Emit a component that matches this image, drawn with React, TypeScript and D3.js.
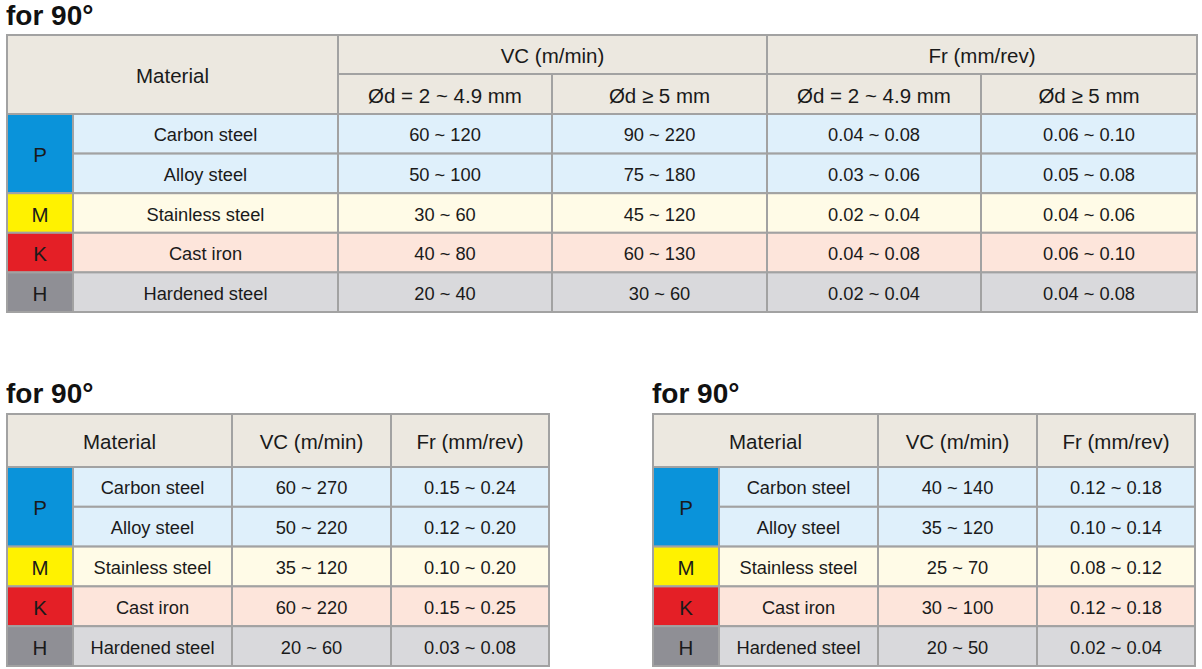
import React from "react";
import * as d3 from "d3";

const materials = ["Carbon steel", "Alloy steel", "Stainless steel", "Cast iron", "Hardened steel"];
const groups = ["P", "P", "M", "K", "H"];
const groupKeys = ["P", "M", "K", "H"];

const topVcSmall = ["60 ~ 120", "50 ~ 100", "30 ~ 60", "40 ~ 80", "20 ~ 40"];
const topVcLarge = ["90 ~ 220", "75 ~ 180", "45 ~ 120", "60 ~ 130", "30 ~ 60"];
const topFrSmall = ["0.04 ~ 0.08", "0.03 ~ 0.06", "0.02 ~ 0.04", "0.04 ~ 0.08", "0.02 ~ 0.04"];
const topFrLarge = ["0.06 ~ 0.10", "0.05 ~ 0.08", "0.04 ~ 0.06", "0.06 ~ 0.10", "0.04 ~ 0.08"];

const leftVc = ["60 ~ 270", "50 ~ 220", "35 ~ 120", "60 ~ 220", "20 ~ 60"];
const leftFr = ["0.15 ~ 0.24", "0.12 ~ 0.20", "0.10 ~ 0.20", "0.15 ~ 0.25", "0.03 ~ 0.08"];

const rightVc = ["40 ~ 140", "35 ~ 120", "25 ~ 70", "30 ~ 100", "20 ~ 50"];
const rightFr = ["0.12 ~ 0.18", "0.10 ~ 0.14", "0.08 ~ 0.12", "0.12 ~ 0.18", "0.02 ~ 0.04"];

const title = "for 90°";
const hdrMaterial = "Material";
const hdrVc = "VC (m/min)";
const hdrFr = "Fr (mm/rev)";
const hdrSmall = "Ød = 2 ~ 4.9 mm";
const hdrLarge = "Ød ≥ 5 mm";

const FONT = "'Liberation Sans', Arial, Helvetica, sans-serif";
const TEXT = "#1a1a1a";
const LINE = "#a2a2a2";
const HEADER_BG = "#ece8e0";

const groupFill = d3.scaleOrdinal<string, string>().domain(groupKeys).range(["#0a93da", "#fff200", "#e41f26", "#8f8f95"]);
const rowFill = d3.scaleOrdinal<string, string>().domain(groupKeys).range(["#dff0fb", "#fffbe7", "#fde5db", "#d9d9dc"]);

type Cell = { x0: number; x1: number; y0: number; y1: number; fill: string; text: string; size: number };

function buildTop(): Cell[] {
  const cx = [7, 73, 338, 552, 767, 981, 1197];
  const yTop = 35, yMid = 74, yHead = 114, yBot = 312;
  const cells: Cell[] = [];
  cells.push({ x0: cx[0], x1: cx[2], y0: yTop, y1: yHead, fill: HEADER_BG, text: hdrMaterial, size: 20.5 });
  cells.push({ x0: cx[2], x1: cx[4], y0: yTop, y1: yMid, fill: HEADER_BG, text: hdrVc, size: 20.5 });
  cells.push({ x0: cx[4], x1: cx[6], y0: yTop, y1: yMid, fill: HEADER_BG, text: hdrFr, size: 20.5 });
  [hdrSmall, hdrLarge, hdrSmall, hdrLarge].forEach((t, i) =>
    cells.push({ x0: cx[2 + i], x1: cx[3 + i], y0: yMid, y1: yHead, fill: HEADER_BG, text: t, size: 20.5 })
  );
  const y = d3.scaleBand<number>().domain(d3.range(materials.length)).range([yHead, yBot]);
  const cols = [topVcSmall, topVcLarge, topFrSmall, topFrLarge];
  addBody(cells, y, cx, materials.length, cols);
  return cells;
}

function addBody(cells: Cell[], y: d3.ScaleBand<number>, cx: number[], n: number, cols: string[][]) {
  let i = 0;
  while (i < n) {
    let j = i;
    while (j + 1 < n && groups[j + 1] === groups[i]) j++;
    cells.push({ x0: cx[0], x1: cx[1], y0: y(i)!, y1: y(j)! + y.bandwidth(), fill: groupFill(groups[i]), text: groups[i], size: 20.5 });
    i = j + 1;
  }
  materials.forEach((m, r) => {
    const f = rowFill(groups[r]);
    cells.push({ x0: cx[1], x1: cx[2], y0: y(r)!, y1: y(r)! + y.bandwidth(), fill: f, text: m, size: 18.3 });
    cols.forEach((col, c) => {
      cells.push({ x0: cx[2 + c], x1: cx[3 + c], y0: y(r)!, y1: y(r)! + y.bandwidth(), fill: f, text: col[r], size: 18.3 });
    });
  });
}

function buildSmall(x0: number, vc: string[], fr: string[]): Cell[] {
  const cx = [0, 66, 225, 384, 542].map((d) => d + x0);
  const yTop = 414, yHead = 467, yBot = 666;
  const cells: Cell[] = [];
  cells.push({ x0: cx[0], x1: cx[2], y0: yTop, y1: yHead, fill: HEADER_BG, text: hdrMaterial, size: 20.5 });
  cells.push({ x0: cx[2], x1: cx[3], y0: yTop, y1: yHead, fill: HEADER_BG, text: hdrVc, size: 20.5 });
  cells.push({ x0: cx[3], x1: cx[4], y0: yTop, y1: yHead, fill: HEADER_BG, text: hdrFr, size: 20.5 });
  const y = d3.scaleBand<number>().domain(d3.range(materials.length)).range([yHead, yBot]);
  addBody(cells, y, cx, materials.length, [vc, fr]);
  return cells;
}

function CellView({ c }: { c: Cell }) {
  return (
    <g>
      <rect x={c.x0} y={c.y0} width={c.x1 - c.x0} height={c.y1 - c.y0} fill={c.fill} stroke={LINE} strokeWidth={2} />
      <text
        x={(c.x0 + c.x1) / 2}
        y={(c.y0 + c.y1) / 2 + 1}
        textAnchor="middle"
        dominantBaseline="central"
        fontFamily={FONT}
        fontSize={c.size}
        fill={TEXT}
      >
        {c.text}
      </text>
    </g>
  );
}

export default function App() {
  const top = buildTop();
  const left = buildSmall(7, leftVc, leftFr);
  const right = buildSmall(653, rightVc, rightFr);
  return (
    <svg width={1202} height={669} style={{ position: "absolute", left: 0, top: 0, background: "#fff" }}>
      <rect width={1202} height={669} fill="#fff" />
      <text x={6} y={25} fontFamily={FONT} fontWeight="bold" fontSize={28} fill="#111">{title}</text>
      <text x={6} y={403} fontFamily={FONT} fontWeight="bold" fontSize={28} fill="#111">{title}</text>
      <text x={652} y={403} fontFamily={FONT} fontWeight="bold" fontSize={28} fill="#111">{title}</text>
      {[...top, ...left, ...right].map((c, i) => (
        <CellView key={i} c={c} />
      ))}
    </svg>
  );
}
